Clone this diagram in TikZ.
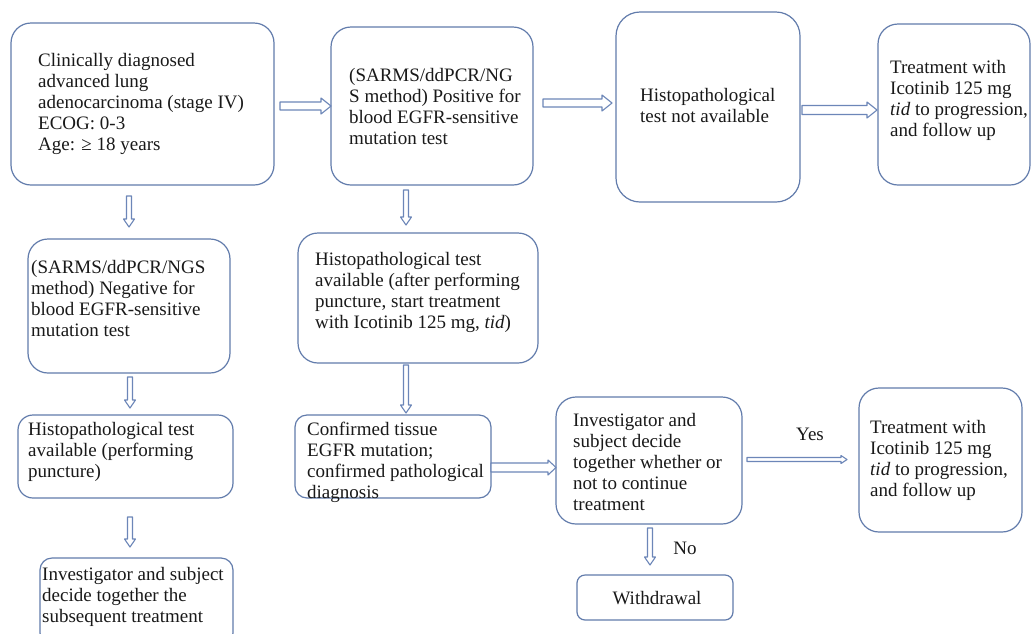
\documentclass[tikz,border=0pt]{standalone}
\usepackage{fontspec}
\setmainfont{Liberation Serif}
\usetikzlibrary{calc}
\definecolor{boxblue}{RGB}{98,124,172}
\definecolor{arrblue}{RGB}{108,134,184}
\definecolor{txtcol}{RGB}{25,25,25}
\tikzset{
  box/.style={draw=boxblue, line width=1.2pt, fill=white, inner sep=0pt, outer sep=0pt},
  txt/.style={anchor=north west, inner sep=0pt, align=left, text=txtcol, font=\fontsize{19}{21}\selectfont},
  lbl/.style={inner sep=0pt, text=txtcol, font=\fontsize{19}{21}\selectfont},
  arrowline/.style={draw=arrblue, line width=1.1pt, fill=white, line join=round}
}
% horizontal block arrow: #1 start, #2 end, #3 half shaft, #4 half head, #5 head length
\newcommand\harrow[5]{%
  \draw[arrowline] let \p1=(#1), \p2=(#2) in
    (\x1,\y1+#3) -- (\x2-#5,\y1+#3) -- (\x2-#5,\y1+#4) -- (\x2,\y1)
    -- (\x2-#5,\y1-#4) -- (\x2-#5,\y1-#3) -- (\x1,\y1-#3) -- cycle;}
% vertical (downward) block arrow
\newcommand\varrow[5]{%
  \draw[arrowline] let \p1=(#1), \p2=(#2) in
    (\x1-#3,\y1) -- (\x1-#3,\y2+#5) -- (\x1-#4,\y2+#5) -- (\x1,\y2)
    -- (\x1+#4,\y2+#5) -- (\x1+#3,\y2+#5) -- (\x1+#3,\y1) -- cycle;}
\begin{document}
\begin{tikzpicture}[x=1pt,y=-1pt]
\useasboundingbox[fill=white] (0,0) rectangle (1031,633);

% boxes
\node[box, rounded corners=20pt, minimum width=263pt, minimum height=162pt] (A) at (142.5,104) {};
\node[box, rounded corners=20pt, minimum width=202pt, minimum height=158pt] (B) at (432,106) {};
\node[box, rounded corners=24pt, minimum width=184pt, minimum height=190pt] (C) at (708,107) {};
\node[box, rounded corners=20pt, minimum width=152pt, minimum height=161pt] (D) at (954,104.5) {};
\node[box, rounded corners=20pt, minimum width=202pt, minimum height=134pt] (E) at (129,306) {};
\node[box, rounded corners=15pt, minimum width=215pt, minimum height=83pt] (F) at (125.5,456.5) {};
\node[box, rounded corners=12pt, minimum width=193pt, minimum height=87pt] (G) at (136.5,601.5) {};
\node[box, rounded corners=20pt, minimum width=240pt, minimum height=130pt] (H) at (418,298) {};
\node[box, rounded corners=12pt, minimum width=196pt, minimum height=83pt] (I) at (393,456.5) {};
\node[box, rounded corners=20pt, minimum width=186pt, minimum height=127pt] (J) at (649,460.5) {};
\node[box, rounded corners=20pt, minimum width=163pt, minimum height=144pt] (K) at (940.5,460) {};
\node[box, rounded corners=8pt, minimum width=156pt, minimum height=45pt] (L) at (655,597.5) {};

% texts
\node[txt] (tA) at (38,53) {Clinically diagnosed\\advanced lung\\adenocarcinoma (stage IV)\\ECOG: 0-3\\Age: ≥ 18 years};
\node[txt] (tB) at (349,68) {(SARMS/ddPCR/NG\\S method) Positive for\\blood EGFR-sensitive\\mutation test};
\node[txt] (tC) at (640,88) {Histopathological\\test not available};
\node[txt] (tD) at (890,60) {Treatment with\\Icotinib 125 mg\\\textit{tid} to progression,\\and follow up};
\node[txt] (tE) at (31,260) {(SARMS/ddPCR/NGS\\method) Negative for\\blood EGFR-sensitive\\mutation test};
\node[txt] (tF) at (28,422) {Histopathological test\\available (performing\\puncture)};
\node[txt] (tG) at (42,567) {Investigator and subject\\decide together the\\subsequent treatment};
\node[txt] (tH) at (315,252) {Histopathological test\\available (after performing\\puncture, start treatment\\with Icotinib 125 mg, \textit{tid})};
\node[txt] (tI) at (307,422) {Confirmed tissue\\EGFR mutation;\\confirmed pathological\\diagnosis};
\node[txt] (tJ) at (573,413) {Investigator and\\subject decide\\together whether or\\not to continue\\treatment};
\node[txt] (tK) at (870,420) {Treatment with\\Icotinib 125 mg\\\textit{tid} to progression,\\and follow up};
\node[lbl] (tL) at (657,598) {Withdrawal};

% arrows
\harrow{$(A.east)+(6,2)$}{B.west}{4pt}{8pt}{10pt}
\harrow{$(B.east)+(10,-3)$}{$(C.west)+(-4,0)$}{4pt}{8pt}{10pt}
\harrow{$(C.east)+(2,3)$}{$(D.west)+(-1,0)$}{4.5pt}{8pt}{10pt}
\harrow{$(I.east)+(0,11)$}{J.west}{4.5pt}{7.5pt}{8pt}
\harrow{$(J.east)+(5,-1)$}{$(K.west)+(-12,0)$}{2pt}{4pt}{6pt}
\varrow{$(E.north |- A.south)+(0,11)$}{$(E.north)+(0,-12)$}{2.5pt}{5.5pt}{8pt}
\varrow{$(E.south)+(1,4)$}{$(F.north -| E.south)+(1,-7)$}{2.5pt}{5.5pt}{8pt}
\varrow{$(F.south -| E.south)+(1,19)$}{$(G.north -| E.south)+(1,-11)$}{2.5pt}{5.5pt}{8pt}
\varrow{$(B.south)+(-26,5)$}{$(H.north -| B.south)+(-26,-8)$}{2.5pt}{5.5pt}{8pt}
\varrow{$(H.south -| B.south)+(-26,2)$}{$(I.north -| B.south)+(-26,-2)$}{2.5pt}{5.5pt}{8pt}
\varrow{$(J.south)+(1,4)$}{$(L.north)+(-5,-10)$}{2.5pt}{5.5pt}{8pt}

% labels
\node[lbl] (yes) at (810,434) {Yes};
\node[lbl] (no) at (685,548) {No};
\end{tikzpicture}
\end{document}
